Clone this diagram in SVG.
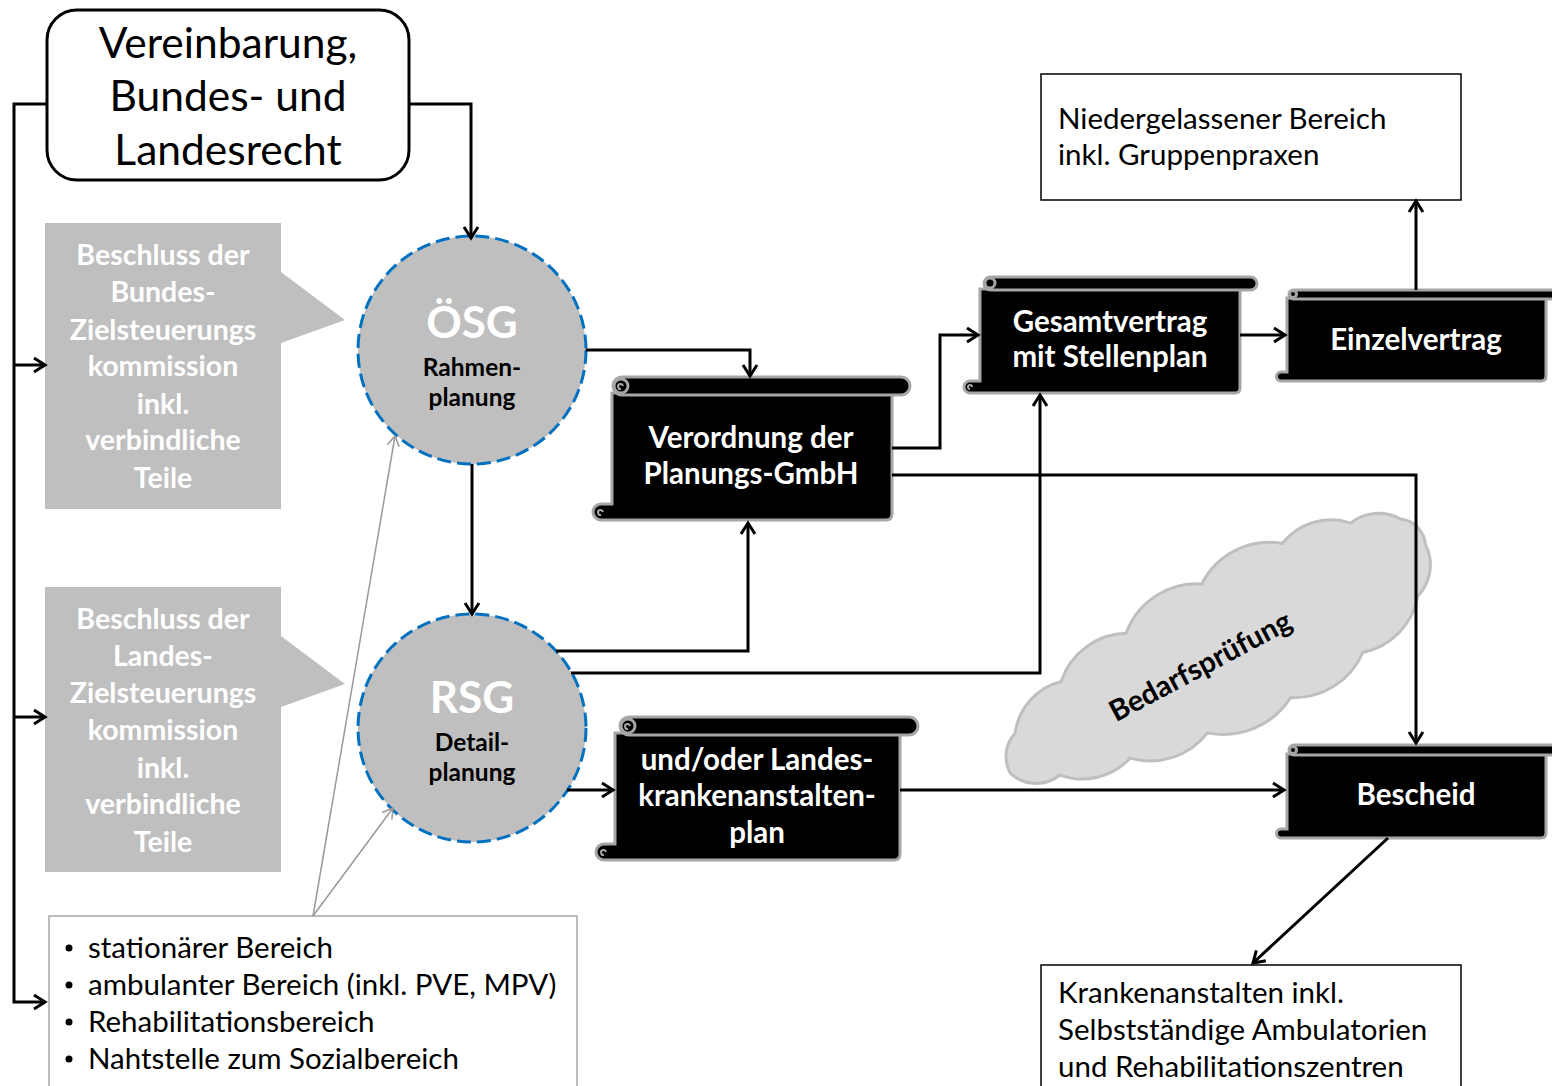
<svg xmlns="http://www.w3.org/2000/svg" width="1552" height="1086" viewBox="0 0 1552 1086">
<style>
.t{font-family:Lato,"Liberation Sans",sans-serif;fill:#000}
.w{font-family:Lato,"Liberation Sans",sans-serif;fill:#fff;font-weight:bold;text-anchor:middle}
.c{text-anchor:middle}
.b{font-weight:bold}
.box{fill:#fff;stroke:#000;stroke-width:1.5}
.gbox{fill:#bfbfbf}
.circ{fill:#bfbfbf;stroke:#0070c0;stroke-width:3;stroke-dasharray:14 6}
.sb{fill:#000;stroke:#a6a6a6;stroke-width:3}
.sc{fill:none;stroke:#a6a6a6;stroke-width:2}
.ln{fill:none;stroke:#000;stroke-width:3;marker-end:url(#ah)}
.gl{fill:none;stroke:#999;stroke-width:1.5;marker-end:url(#gah)}
</style>
<defs>
<marker id="ah" markerUnits="userSpaceOnUse" markerWidth="16" markerHeight="18" refX="13" refY="9" orient="auto">
<path d="M2,2 L13,9 L2,16" fill="none" stroke="#000" stroke-width="3"/>
</marker>
<marker id="gah" markerUnits="userSpaceOnUse" markerWidth="14" markerHeight="14" refX="11" refY="7" orient="auto">
<path d="M1,1 L11,7 L1,13" fill="none" stroke="#999" stroke-width="1.5"/>
</marker>
</defs>
<rect width="1552" height="1086" fill="#fff"/>

<g id="cloud">
<path transform="translate(1218,657) rotate(-28)" fill="#d9d9d9" stroke="#bfbfbf" stroke-width="3" d="M236,-2 A45,45 0 0 1 205,40 A70,70 0 0 1 130,64 A75,75 0 0 1 45,70 A80,80 0 0 1 -45,62 A72,72 0 0 1 -125,48 A65,65 0 0 1 -195,30 A38,38 0 0 1 -238,5 A35,35 0 0 1 -215,-28 A62,62 0 0 1 -150,-52 A70,70 0 0 1 -70,-64 A75,75 0 0 1 20,-72 A75,75 0 0 1 110,-70 A62,62 0 0 1 180,-56 A45,45 0 0 1 226,-36 A28,28 0 0 1 236,-2 Z"/>
<text class="t b c" font-size="29" transform="translate(1205,675) rotate(-28)">Bedarfsprüfung</text>
</g>

<g id="top">
<rect x="47" y="10" width="362" height="170" rx="30" fill="#fff" stroke="#000" stroke-width="3"/>
<text class="t c" font-size="42.5" x="228" y="58">Vereinbarung,</text>
<text class="t c" font-size="42.5" x="228" y="111">Bundes- und</text>
<text class="t c" font-size="42.5" x="228" y="165">Landesrecht</text>
</g>

<g id="beschluss-bund">
<path class="gbox" d="M45,223 H281 V272 L345,320 L281,343 V509 H45 Z"/>
<text class="w" font-size="28.5" x="163" y="265">Beschluss der</text>
<text class="w" font-size="28.5" x="163" y="302">Bundes-</text>
<text class="w" font-size="28.5" x="163" y="340">Zielsteuerungs</text>
<text class="w" font-size="28.5" x="163" y="376">kommission</text>
<text class="w" font-size="28.5" x="163" y="414">inkl.</text>
<text class="w" font-size="28.5" x="163" y="450">verbindliche</text>
<text class="w" font-size="28.5" x="163" y="488">Teile</text>
</g>

<g id="beschluss-land">
<path class="gbox" d="M45,587 H281 V636 L345,684 L281,707 V872 H45 Z"/>
<text class="w" font-size="28.5" x="163" y="629">Beschluss der</text>
<text class="w" font-size="28.5" x="163" y="666">Landes-</text>
<text class="w" font-size="28.5" x="163" y="703">Zielsteuerungs</text>
<text class="w" font-size="28.5" x="163" y="740">kommission</text>
<text class="w" font-size="28.5" x="163" y="778">inkl.</text>
<text class="w" font-size="28.5" x="163" y="814">verbindliche</text>
<text class="w" font-size="28.5" x="163" y="852">Teile</text>
</g>

<g id="oesg">
<circle class="circ" cx="472" cy="350" r="114"/>
<text class="w" font-size="44" x="472" y="338">ÖSG</text>
<text class="t b c" font-size="24.5" x="472" y="376">Rahmen-</text>
<text class="t b c" font-size="24.5" x="472" y="406">planung</text>
</g>

<g id="rsg">
<circle class="circ" cx="472" cy="728" r="114"/>
<text class="w" font-size="44" x="472" y="713">RSG</text>
<text class="t b c" font-size="24.5" x="472" y="751">Detail-</text>
<text class="t b c" font-size="24.5" x="472" y="781">planung</text>
</g>

<g id="bullets">
<rect x="49" y="916" width="528" height="200" fill="#fff" stroke="#a6a6a6" stroke-width="1.5"/>
<circle cx="69" cy="948" r="3.5"/><circle cx="69" cy="985" r="3.5"/><circle cx="69" cy="1022" r="3.5"/><circle cx="69" cy="1059" r="3.5"/>
<text class="t" font-size="29.5" x="88" y="958">stationärer Bereich</text>
<text class="t" font-size="29.5" x="88" y="995">ambulanter Bereich (inkl. PVE, MPV)</text>
<text class="t" font-size="29.5" x="88" y="1032">Rehabilitationsbereich</text>
<text class="t" font-size="29.5" x="88" y="1069">Nahtstelle zum Sozialbereich</text>
</g>

<g id="verordnung">
<path class="sb" d="M612,393 H892 V514 Q892,520 886,520 H601 A8,8 0 0 1 601,504 H612 Z"/>
<rect class="sb" x="613" y="377" width="297" height="18" rx="9"/>
<circle class="sb" cx="621" cy="386" r="7"/>
<path class="sc" d="M623,386 a2.5,2.5 0 1 0 -2,3"/>
<path class="sc" d="M603,512 a2.5,2.5 0 1 0 -2,3"/>
<text class="w" font-size="29.5" x="751" y="448">Verordnung der</text>
<text class="w" font-size="29.5" x="751" y="484">Planungs-GmbH</text>
</g>

<g id="gesamtvertrag">
<path class="sb" d="M980,289 H1240 V388 Q1240,393 1235,393 H970 A6,6 0 0 1 970,381 H980 Z"/>
<rect class="sb" x="984" y="277" width="273" height="13" rx="6.5"/>
<circle class="sb" cx="990" cy="283" r="5"/>
<path class="sc" d="M972,387 a2,2 0 1 0 -2,2"/>
<text class="w" font-size="29.5" x="1110" y="332">Gesamtvertrag</text>
<text class="w" font-size="29.5" x="1110" y="367">mit Stellenplan</text>
</g>

<g id="einzelvertrag">
<path class="sb" d="M1287,298 H1546 V376 Q1546,381 1541,381 H1281 A4.5,4.5 0 0 1 1281,372 H1287 Z"/>
<rect class="sb" x="1289" y="290" width="270" height="9" rx="4.5"/>
<circle class="sb" cx="1293" cy="294" r="3.5"/>
<text class="w" font-size="29.5" x="1416" y="350">Einzelvertrag</text>
</g>

<g id="bescheid">
<path class="sb" d="M1287,754 H1546 V833 Q1546,838 1541,838 H1281 A4.5,4.5 0 0 1 1281,829 H1287 Z"/>
<rect class="sb" x="1289" y="745" width="270" height="10" rx="5"/>
<circle class="sb" cx="1293" cy="750" r="3.5"/>
<text class="w" font-size="29.5" x="1416" y="805">Bescheid</text>
</g>

<g id="landes">
<path class="sb" d="M615,733 H900 V854 Q900,860 894,860 H604 A8,8 0 0 1 604,844 H615 Z"/>
<rect class="sb" x="620" y="717" width="298" height="18" rx="9"/>
<circle class="sb" cx="628" cy="726" r="7"/>
<path class="sc" d="M630,726 a2.5,2.5 0 1 0 -2,3"/>
<path class="sc" d="M606,852 a2.5,2.5 0 1 0 -2,3"/>
<text class="w" font-size="29.5" x="757" y="770">und/oder Landes-</text>
<text class="w" font-size="29.5" x="757" y="806">krankenanstalten-</text>
<text class="w" font-size="29.5" x="757" y="843">plan</text>
</g>

<g id="niedergelassen">
<rect class="box" x="1041" y="74" width="420" height="126"/>
<text class="t" font-size="29.5" x="1058" y="129">Niedergelassener Bereich</text>
<text class="t" font-size="29.5" x="1058" y="165">inkl. Gruppenpraxen</text>
</g>

<g id="krankenanstalten">
<rect class="box" x="1041" y="965" width="420" height="140"/>
<text class="t" font-size="29.5" x="1058" y="1003">Krankenanstalten inkl.</text>
<text class="t" font-size="29.5" x="1058" y="1040">Selbstständige Ambulatorien</text>
<text class="t" font-size="29.5" x="1058" y="1077">und Rehabilitationszentren</text>
</g>

<g id="connectors">
<path class="ln" d="M409,104 H471 V238"/>
<path class="ln" d="M47,104 H14 V1002 H45"/>
<path class="ln" d="M14,365 H45"/>
<path class="ln" d="M14,717 H45"/>
<path class="ln" d="M472,464 V614"/>
<path class="ln" d="M586,350 H750 V376"/>
<path class="ln" d="M892,448 H940 V335 H978"/>
<path class="ln" d="M892,475 H1416 V743"/>
<path class="ln" d="M556,651 H748 V523"/>
<path class="ln" d="M571,673 H1040 V395"/>
<path class="ln" d="M567,790 H613"/>
<path class="ln" d="M900,790 H1284"/>
<path class="ln" d="M1240,335 H1285"/>
<path class="ln" d="M1416,290 V201"/>
<path class="ln" d="M1388,838 L1253,963"/>
<path class="gl" d="M313,916 L395,436"/>
<path class="gl" d="M313,916 L393,808"/>
</g>
</svg>
